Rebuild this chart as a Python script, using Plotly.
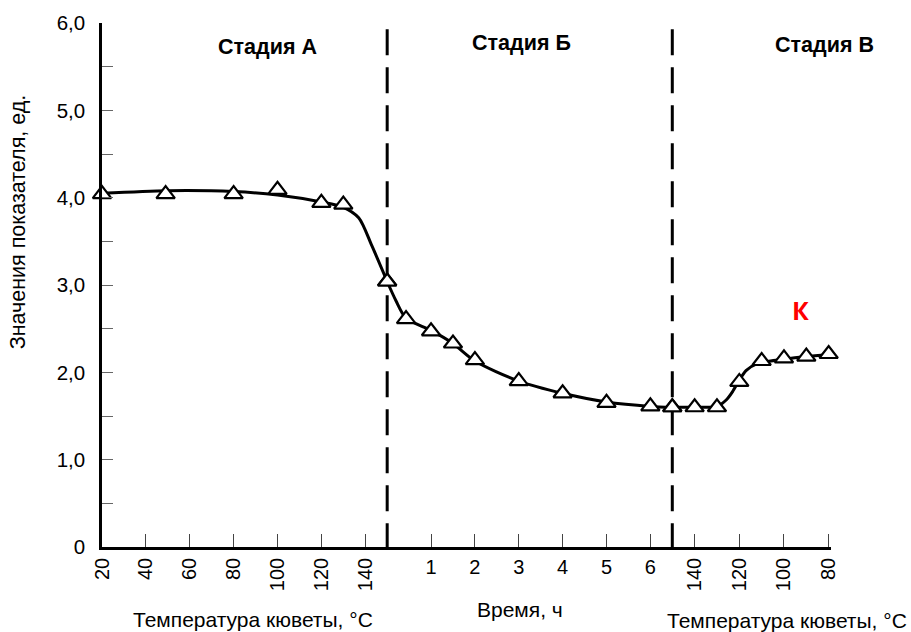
import plotly.graph_objects as go

# ---------------- data ----------------
boundary_AB = 3.04   # value at the end of stage A / start of stage B
boundary_BC = 1.60   # value at the end of stage B / start of stage C

# Stage A: heating, cuvette temperature, °C
stageA_temp = [20, 49, 80, 100, 120, 130, 150]
stageA_val = [4.04, 4.04, 4.04, 4.09, 3.94, 3.92, boundary_AB]
stageA_curve_temp = [20, 50, 80, 100, 120, 130, 137, 143, 150]
stageA_curve_val = [4.05, 4.08, 4.07, 4.03, 3.95, 3.89, 3.77, 3.45, boundary_AB]

# Stage B: holding, time, h
stageB_time = [0, 0.43, 1, 1.5, 2, 3, 4, 5, 6, 6.5]
stageB_val = [boundary_AB, 2.61, 2.47, 2.33, 2.14, 1.90, 1.76, 1.65, 1.61, boundary_BC]
stageB_curve_time = [0, 0.2, 0.43, 1, 1.5, 2, 3, 4, 5, 6, 6.5]
stageB_curve_val = [boundary_AB, 2.82, 2.62, 2.48, 2.33, 2.13, 1.90, 1.76, 1.66, 1.61, boundary_BC]

# Stage C: cooling, cuvette temperature, °C
stageC_temp = [150, 140, 130, 120, 110, 100, 90, 80]
stageC_val = [boundary_BC, 1.60, 1.60, 1.89, 2.13, 2.16, 2.18, 2.21]
stageC_curve_temp = [150, 140, 130, 126, 123, 120, 117, 112, 100, 90, 80]
stageC_curve_val = [boundary_BC, 1.60, 1.61, 1.68, 1.78, 1.91, 2.02, 2.10, 2.15, 2.18, 2.20]

# axis ticks
tickA = [20, 40, 60, 80, 100, 120, 140]
tickB = [1, 2, 3, 4, 5, 6]
tickC = [140, 120, 100, 80]
y_ticks = [0, 0.5, 1, 1.5, 2, 2.5, 3, 3.5, 4, 4.5, 5, 5.5, 6]
y_ticktext = ["0", "", "1,0", "", "2,0", "", "3,0", "", "4,0", "", "5,0", "", "6,0"]

stage_labels = ["Стадия А", "Стадия Б", "Стадия В"]
x_titles = ["Температура кюветы, °C", "Время, ч", "Температура кюветы, °C"]
y_title = "Значения показателя, ед."
curve_label = "К"

# ---------------- figure ----------------
FONT = "Liberation Sans, Arial, sans-serif"
fig = go.Figure()

line_style = dict(color="black", width=3, shape="spline", smoothing=0.8)
marker_style = dict(symbol="triangle-up", size=16, color="white",
                    line=dict(color="black", width=2.2))

stages = [
    ("x", stageA_curve_temp, stageA_curve_val, stageA_temp, stageA_val),
    ("x2", stageB_curve_time, stageB_curve_val, stageB_time, stageB_val),
    ("x3", stageC_curve_temp, stageC_curve_val, stageC_temp, stageC_val),
]
for xa, cx, cy, mx, my in stages:
    fig.add_trace(go.Scatter(x=cx, y=cy, xaxis=xa, yaxis="y", mode="lines",
                             line=line_style, hoverinfo="skip", showlegend=False))
for xa, cx, cy, mx, my in stages:
    fig.add_trace(go.Scatter(x=mx, y=my, xaxis=xa, yaxis="y", mode="markers",
                             marker=marker_style, cliponaxis=False, showlegend=False))

dA = [0, 0.3912]
dB = [0.3912, 0.7823]
dC = [0.7823, 1]

common_x = dict(showline=True, linecolor="black", linewidth=2.5, ticks="inside",
                ticklen=13, tickwidth=1, tickcolor="#444", showgrid=False,
                zeroline=False, anchor="y",
                tickfont=dict(family=FONT, size=20, color="black"))

fig.update_layout(
    width=911, height=632,
    margin=dict(l=102, r=80, t=23, b=85),
    paper_bgcolor="white", plot_bgcolor="white",
    font=dict(family=FONT, color="black"),
    xaxis=dict(domain=dA, range=[20, 150], tickvals=tickA, tickangle=-90, **common_x),
    xaxis2=dict(domain=dB, range=[0, 6.5], tickvals=tickB, tickangle=0, **common_x),
    xaxis3=dict(domain=dC, range=[150, 78.95], tickvals=tickC, tickangle=-90, **common_x),
    yaxis=dict(range=[0, 6], tickvals=y_ticks, ticktext=y_ticktext, ticks="inside",
               ticklen=11, tickwidth=1, tickcolor="#666", showline=True,
               linecolor="black", linewidth=2.5, showgrid=False, zeroline=False,
               ticklabelstandoff=10,
               tickfont=dict(family=FONT, size=20.5, color="black")),
)

# stage boundaries: at the edges between the stage sub-axes
for xb in [dA[1], dB[1]]:
    fig.add_shape(type="line", xref="paper", yref="paper", x0=xb, x1=xb, y0=0.988, y1=-0.016,
                  line=dict(color="black", width=3, dash="26px,12px"), layer="below")

ann = []
for txt, x, y in zip(stage_labels, [0.2277, 0.5748, 0.991], [0.954, 0.962, 0.958]):
    ann.append(dict(text="<b>%s</b>" % txt, x=x, y=y, xref="paper", yref="paper",
                    showarrow=False, xanchor="center", yanchor="middle",
                    font=dict(family=FONT, size=21.5, color="black")))
for txt, x, y in zip(x_titles, [0.207, 0.573, 0.939], [-0.139, -0.120, -0.141]):
    ann.append(dict(text=txt, x=x, y=y, xref="paper", yref="paper", showarrow=False,
                    xanchor="center", yanchor="middle",
                    font=dict(family=FONT, size=21, color="black")))
ann.append(dict(text=y_title, x=-0.115, y=0.620, xref="paper", yref="paper",
                showarrow=False, textangle=-90, xanchor="center", yanchor="middle",
                font=dict(family=FONT, size=21.5, color="black")))
ann.append(dict(text="<b>%s</b>" % curve_label, x=0.9575, y=0.452, xref="paper",
                yref="paper", showarrow=False, xanchor="center", yanchor="middle",
                font=dict(family="Open Sans, sans-serif", size=25, color="#ff0000")))
fig.update_layout(annotations=ann)

fig.write_html("out.html", config={"displayModeBar": False},
               post_script="document.body.style.margin='0';document.body.style.overflow='hidden';")
